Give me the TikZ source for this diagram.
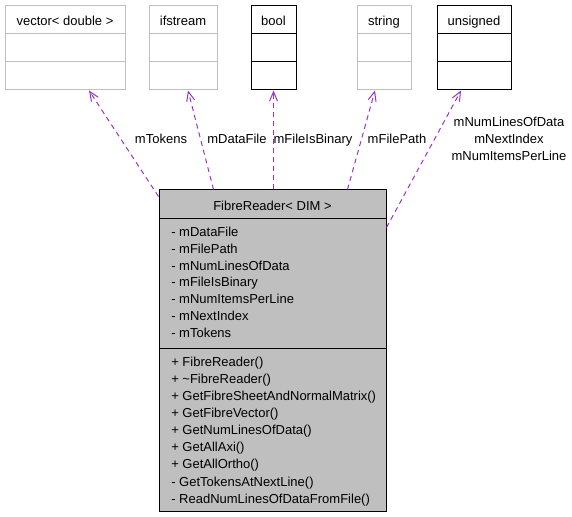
\documentclass[tikz,border=0pt]{standalone}
\usepackage{fontspec}
\setmainfont{Liberation Sans}
\usetikzlibrary{arrows.meta,calc}
\definecolor{edgecol}{HTML}{9A32CD}
\definecolor{lightborder}{HTML}{BFBFBF}
\definecolor{mainfill}{HTML}{BFBFBF}
\tikzset{
  boxbase/.style={draw, rectangle, inner sep=0pt, line width=0.75pt},
  lightbox/.style={boxbase, draw=lightborder, fill=white},
  darkbox/.style={boxbase, draw=black, fill=white},
  mainbox/.style={boxbase, draw=black, fill=mainfill},
  txt/.style={inner sep=0pt, font=\fontsize{9.75}{11}\selectfont},
  title/.style={txt, anchor=base},
  member/.style={txt, anchor=base west},
  elabel/.style={txt, anchor=base},
  usage/.style={draw=edgecol, line width=0.75pt, dash pattern=on 3.75pt off 3pt,
    -{Straight Barb[length=7pt,width=6pt,line width=0.75pt]}},
}
\begin{document}
\begin{tikzpicture}[x=0.75pt,y=-0.75pt]
\useasboundingbox (0,0) rectangle (572,517);
% top boxes
\node[lightbox, minimum width=120*0.75pt, minimum height=84*0.75pt] (vec) at (65,48) {};
\draw[lightborder, line width=0.75pt] (5,34) -- (125,34) (5,62) -- (125,62);
\node[title] (vect) at (65,25.3) {vector< double >};

\node[lightbox, minimum width=68*0.75pt, minimum height=84*0.75pt] (ifs) at (183,48) {};
\draw[lightborder, line width=0.75pt] (149,34) -- (217,34) (149,62) -- (217,62);
\node[title] (ifst) at (183,25.3) {ifstream};

\node[darkbox, minimum width=45*0.75pt, minimum height=84*0.75pt] (bool) at (273.5,48) {};
\draw[black, line width=0.75pt] (251,34) -- (296,34) (251,62) -- (296,62);
\node[title] (boolt) at (273.5,25.3) {bool};

\node[lightbox, minimum width=54*0.75pt, minimum height=84*0.75pt] (str) at (384,48) {};
\draw[lightborder, line width=0.75pt] (357,34) -- (411,34) (357,62) -- (411,62);
\node[title] (strt) at (384,25.3) {string};

\node[darkbox, minimum width=74*0.75pt, minimum height=84*0.75pt] (uns) at (474,48) {};
\draw[black, line width=0.75pt] (437,34) -- (511,34) (437,62) -- (511,62);
\node[title] (unst) at (474,25.3) {unsigned};

% main box
\node[mainbox, minimum width=227*0.75pt, minimum height=321*0.75pt] (main) at (272.5,350.5) {};
\draw[black, line width=0.75pt] (159,218) -- (386,218) (159,348) -- (386,348);
\node[title] (maint) at (272.5,210.4) {FibreReader< DIM >};

\foreach \t [count=\i from 0] in {- mDataFile, - mFilePath, - mNumLinesOfData, - mFileIsBinary, - mNumItemsPerLine, - mNextIndex, - mTokens}
  \node[member] (attr\i) at (171,236.4+16.83*\i) {\t};

\foreach \t [count=\i from 0] in {+ FibreReader(), + \char`\~FibreReader(), + GetFibreSheetAndNormalMatrix(), + GetFibreVector(), + GetNumLinesOfData(), + GetAllAxi(), + GetAllOrtho(), - GetTokensAtNextLine(), - ReadNumLinesOfDataFromFile()}
  \node[member] (meth\i) at (171,366+17.15*\i) {\t};

% connectors
\draw[usage] ($(main.north west)+(0,7)$) -- ($(vec.south)+(24,0)$);
\draw[usage] ($(main.north west)+(55,0)$) -- ($(ifs.south)+(5,0)$);
\draw[usage] (main.north -| bool.south) -- (bool.south);
\draw[usage] ($(main.north east)+(-39,0)$) -- ($(str.south)+(-9,0)$);
\draw[usage] ($(main.north east)+(0,38)$) -- ($(uns.south)+(-13,0)$);

% labels
\node[elabel] (l1) at (161,143.7) {mTokens};
\node[elabel] (l2) at (237,143.7) {mDataFile};
\node[elabel] (l3) at (313,143.7) {mFileIsBinary};
\node[elabel] (l4) at (397,143.7) {mFilePath};
\node[elabel] (l5) at (509,126.4) {mNumLinesOfData};
\node[elabel] (l6) at (509,143.7) {mNextIndex};
\node[elabel] (l7) at (509,160.7) {mNumItemsPerLine};
\end{tikzpicture}
\end{document}
